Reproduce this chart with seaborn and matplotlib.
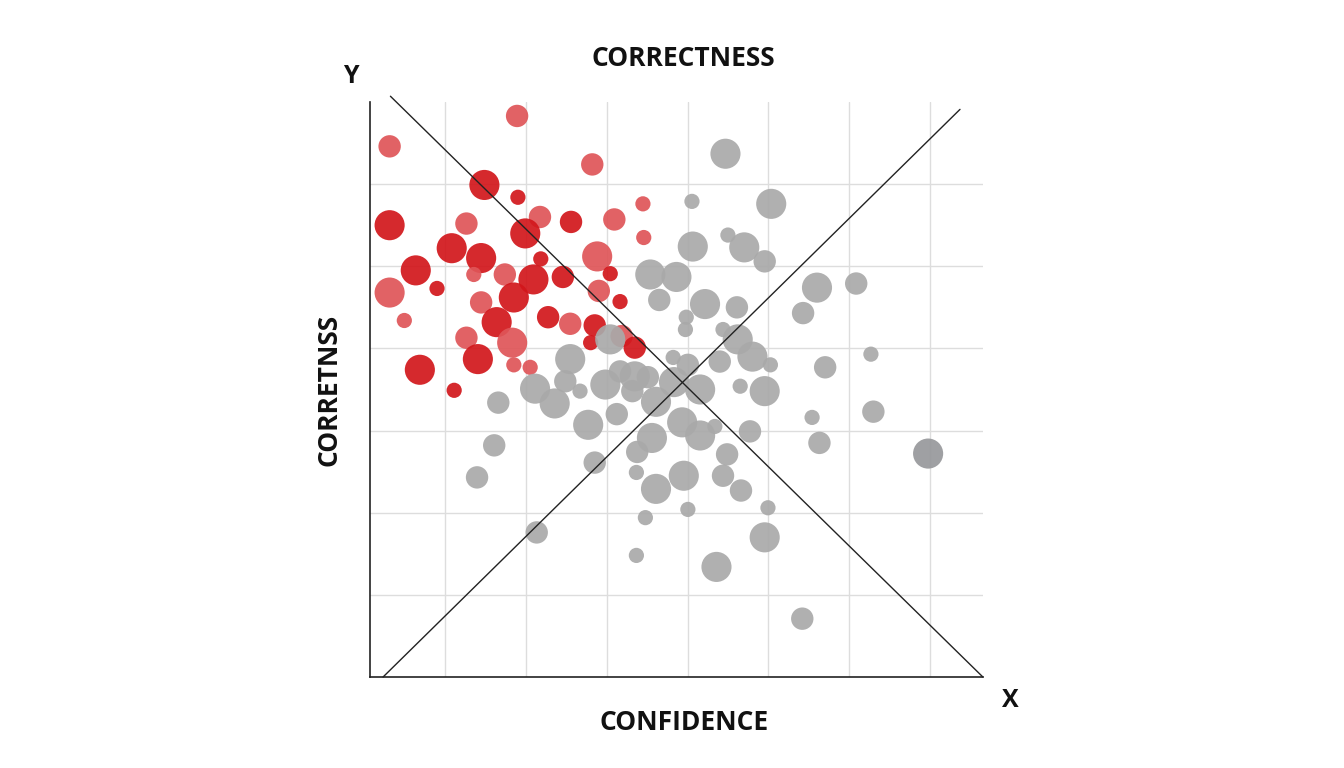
import numpy as np
import pandas as pd
import matplotlib
matplotlib.use("Agg")
import matplotlib.pyplot as plt
import seaborn as sns

# =========================================================
# DATA (confidence x, correctness y, bubble size, shade)
# =========================================================
red_x = [1.80, 0.24, 1.40, 2.72, 1.81, 0.24, 1.18, 2.08, 2.46, 2.99, 3.34, 1.90, 3.35, 1.00,
         1.36, 2.78, 0.56, 1.27, 1.65, 2.00, 2.36, 2.94, 2.09, 0.24, 0.82, 1.76, 1.36, 2.80,
         3.06, 0.42, 1.55, 2.18, 2.45, 2.75, 1.18, 1.74, 3.08, 3.24, 1.32, 2.70, 0.61, 1.76,
         1.96, 1.03]
red_y = [6.83, 6.46, 5.99, 6.24, 5.84, 5.50, 5.52, 5.60, 5.54, 5.57, 5.76, 5.40, 5.35, 5.22,
         5.10, 5.12, 4.95, 4.90, 4.90, 4.84, 4.87, 4.91, 5.09, 4.68, 4.73, 4.62, 4.56, 4.70,
         4.57, 4.34, 4.32, 4.38, 4.30, 4.28, 4.13, 4.07, 4.15, 4.01, 3.87, 4.07, 3.74, 3.80,
         3.77, 3.49]
red_size = ["m", "m", "L", "m", "s", "L", "m", "m", "m", "m", "s", "L", "s", "L",
            "L", "L", "L", "s", "m", "L", "m", "s", "s", "L", "s", "L", "m", "m",
            "s", "s", "L", "m", "m", "m", "m", "L", "m", "m", "L", "s", "L", "s",
            "s", "s"]
red_shade = ["red light", "red light", "red dark", "red light", "red dark", "red dark", "red light",
             "red light", "red dark", "red light", "red light", "red dark", "red light", "red dark",
             "red dark", "red light", "red dark", "red light", "red light", "red dark", "red dark",
             "red dark", "red dark", "red light", "red dark", "red dark", "red light", "red light",
             "red dark", "red light", "red dark", "red dark", "red light", "red dark", "red light",
             "red light", "red light", "red dark", "red dark", "red dark", "red dark", "red light",
             "red light", "red dark"]

gray_x = [4.35, 4.91, 3.94, 3.95, 4.38, 4.58, 4.83, 3.43, 3.75, 3.54, 4.10, 4.49, 5.47, 5.95,
          5.30, 3.87, 3.86, 4.32, 4.50, 4.68, 4.90, 4.28, 2.94, 2.45, 3.71, 3.89, 3.24, 3.06,
          2.88, 3.40, 2.39, 2.02, 2.57, 2.26, 3.21, 4.04, 3.72, 4.53, 4.83, 5.57, 6.13, 3.50,
          1.57, 3.02, 2.67, 3.82, 4.04, 4.22, 3.45, 3.27, 4.65, 5.41, 6.16, 5.50, 1.52, 2.75,
          4.37, 3.84, 4.32, 3.26, 3.50, 4.54, 1.31, 6.83, 4.87, 3.89, 3.37, 2.04, 4.83, 3.26,
          4.24, 5.29]
gray_y = [6.37, 5.76, 5.79, 5.24, 5.38, 5.23, 5.06, 4.90, 4.87, 4.59, 4.54, 4.50, 4.74, 4.79,
          4.43, 4.38, 4.23, 4.23, 4.11, 3.90, 3.80, 3.84, 4.11, 3.87, 3.89, 3.80, 3.66, 3.72,
          3.56, 3.65, 3.60, 3.51, 3.48, 3.33, 3.48, 3.50, 3.59, 3.54, 3.48, 3.77, 3.93, 3.35,
          3.34, 3.20, 3.07, 3.10, 2.94, 3.05, 2.91, 2.74, 2.99, 3.16, 3.23, 2.85, 2.82, 2.61,
          2.71, 2.45, 2.45, 2.49, 2.29, 2.27, 2.43, 2.72, 2.06, 2.04, 1.94, 1.76, 1.70, 1.48,
          1.34, 0.71]
gray_size = ["L", "L", "s", "L", "s", "L", "m", "L", "L", "m", "L", "m", "L", "m",
             "m", "s", "s", "s", "L", "L", "s", "m", "L", "L", "s", "m", "L", "m",
             "L", "m", "m", "L", "s", "L", "m", "L", "L", "s", "L", "m", "s", "L",
             "m", "m", "L", "L", "L", "s", "L", "m", "m", "s", "m", "m", "m", "m",
             "m", "L", "m", "s", "L", "m", "m", "L", "s", "s", "s", "m", "L", "s",
             "L", "m"]
gray_shade = ["gray"] * len(gray_x)
gray_shade[63] = "gray dark"

# diagonal reference lines
diag_up_x = [0.16, 7.22]
diag_up_y = [0.0, 6.91]
diag_down_x = [0.25, 7.5]
diag_down_y = [7.07, 0.0]

# grid positions
grid_x = [0.92, 1.91, 2.90, 3.89, 4.87, 5.86, 6.85]
grid_y = [1, 2, 3, 4, 5, 6]

# =========================================================
# FRAME
# =========================================================
df = pd.DataFrame({
    "x": red_x + gray_x,
    "y": red_y + gray_y,
    "size": red_size + gray_size,
    "shade": red_shade + gray_shade,
})

sns.set_theme(style="white")
plt.rcParams["font.family"] = ["Open Sans", "DejaVu Sans"]

fig = plt.figure(figsize=(13.44, 7.68), dpi=100)
ax = fig.add_axes([0.2753, 0.1185, 0.456, 0.7487])

palette = {"red dark": "#d2161b", "red light": "#df5558",
           "gray": "#a9a9a9", "gray dark": "#97989b"}
sizes = {"L": 470, "m": 260, "s": 120}

sns.scatterplot(data=df, x="x", y="y", hue="shade", size="size",
                palette=palette, sizes=sizes, alpha=0.92, linewidth=0,
                legend=False, ax=ax, zorder=3)

ax.plot(diag_up_x, diag_up_y, color="#222222", lw=1, zorder=4, clip_on=False)
ax.plot(diag_down_x, diag_down_y, color="#222222", lw=1, zorder=4, clip_on=False)

ax.set_xlim(0, 7.5)
ax.set_ylim(0, 7)
ax.set_xticks(grid_x)
ax.set_yticks(grid_y)
ax.grid(True, color="#dddddd", lw=1)
ax.tick_params(left=False, bottom=False, labelleft=False, labelbottom=False)
for side in ["top", "right"]:
    ax.spines[side].set_visible(False)
for side in ["left", "bottom"]:
    ax.spines[side].set_color("#222222")
    ax.spines[side].set_linewidth(1.2)

ax.set_xlabel("CONFIDENCE", fontsize=19, fontweight="bold", labelpad=20, color="#111111")
ax.xaxis.set_label_coords(0.512, -0.055)
ax.set_ylabel("CORRETNSS", fontsize=19, fontweight="bold", labelpad=20, color="#111111")
ax.set_title("CORRECTNESS", fontsize=19, fontweight="bold", pad=26, color="#111111", x=0.512)
fig.text(0.261, 0.9, "Y", fontsize=18, fontweight="bold", ha="center", va="center", color="#111111")
fig.text(0.752, 0.088, "X", fontsize=18, fontweight="bold", ha="center", va="center", color="#111111")

fig.savefig("out.png", dpi=100)
